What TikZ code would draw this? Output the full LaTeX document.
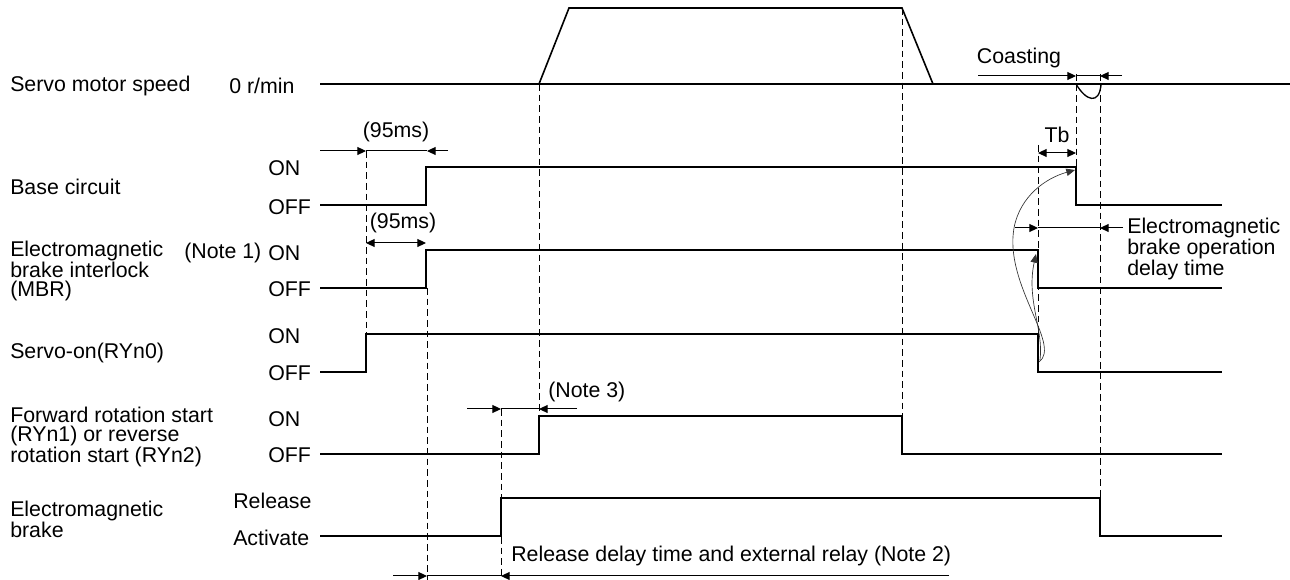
\documentclass[tikz,border=0pt]{standalone}
\usepackage{fontspec}
\setmainfont{Liberation Sans}
\usetikzlibrary{arrows.meta}
\begin{document}
\begin{tikzpicture}[x=0.75pt,y=-0.75pt,
  sig/.style={line width=1.5pt, line join=miter},
  dsh/.style={line width=0.75pt, dash pattern=on 5pt off 3pt},
  dim/.style={line width=0.75pt},
  tip/.style={-{Triangle[length=6.5pt,width=6pt]}},
  dbl/.style={{Triangle[length=6.5pt,width=6pt]}-{Triangle[length=6.5pt,width=6pt]}},
  crv/.style={line width=0.5pt, black!80, -{Triangle[length=6.5pt,width=5.5pt]}},
  lbl/.style={font=\fontsize{16}{14.8}\selectfont, inner sep=0pt, align=left, anchor=west},
  ctr/.style={font=\fontsize{16}{14.8}\selectfont, inner sep=0pt, anchor=center},
]
\useasboundingbox (0,0) rectangle (1290,580);

% ---- labels, left column
\node[lbl] (sms) at (10,86) {Servo motor speed};
\node[lbl] (rpm) at (229,86) {0 r/min};
\node[lbl] (bc) at (10,187) {Base circuit};
\node[lbl] (bcon) at (268,168) {ON};
\node[lbl] (bcoff) at (268,207) {OFF};
\node[lbl] (mbr) at (10,271) {Electromagnetic\\brake interlock\\(MBR)};
\node[lbl] (nt1) at (184,253) {(Note 1)};
\node[lbl] (mbron) at (268,253) {ON};
\node[lbl] (mbroff) at (268,289) {OFF};
\node[lbl] (son) at (10,353) {Servo-on(RYn0)};
\node[lbl] (sonon) at (268,336) {ON};
\node[lbl] (sonoff) at (268,373) {OFF};
\node[lbl] (fwd) at (10,437) {Forward rotation start\\(RYn1) or reverse\\rotation start (RYn2)};
\node[lbl] (fwdon) at (268,419) {ON};
\node[lbl] (fwdoff) at (268,455) {OFF};
\node[lbl] (emb) at (10,519) {Electromagnetic\\brake};
\node[lbl] (rel) at (233,501) {Release};
\node[lbl] (act) at (233,538) {Activate};

% ---- other texts
\node[ctr] (t95a) at (396,132) {(95ms)};
\node[ctr] (t95b) at (403,223) {(95ms)};
\node[ctr] (tb) at (1057,135) {Tb};
\node[ctr] (coast) at (1019,58) {Coasting};
\node[lbl] (nt3) at (548,392) {(Note 3)};
\node[lbl] (nt2) at (511,556) {Release delay time and external relay (Note 2)};
\node[lbl] (ebod) at (1127,249) {Electromagnetic\\brake operation\\delay time};

% ---- dashed time markers
\draw[dsh] (366,151) -- (366,334);
\draw[dsh] (427,288) -- (427,580);
\draw[dsh] (501,409) -- (501,580);
\draw[dsh] (539,84) -- (539,416);
\draw[dsh] (902,8) -- (902,416);
\draw[dsh] (1038,145) -- (1038,334);
\draw[dsh] (1076,74) -- (1076,167);
\draw[dsh] (1100,74) -- (1100,498);

% ---- servo motor speed
\draw[sig] (320,84) -- (1290,84);
\draw[line width=1.2pt, line join=miter] (539,84) -- (569,8) -- (902,8) -- (933,84);
\draw[line width=1pt] (1076,84) .. controls (1086,101) and (1099,105) .. (1101,85);

% ---- signals
\draw[sig] (320,205) -- (426,205) -- (426,167) -- (1076,167) -- (1076,205) -- (1222,205);
\draw[sig] (320,288) -- (426,288) -- (426,250) -- (1038,250) -- (1038,288) -- (1222,288);
\draw[sig] (320,372) -- (366,372) -- (366,334) -- (1038,334) -- (1038,372) -- (1222,372);
\draw[sig] (320,454) -- (539,454) -- (539,416) -- (902,416) -- (902,454) -- (1222,454);
\draw[sig] (320,536) -- (501,536) -- (501,498) -- (1100,498) -- (1100,536) -- (1222,536);

% ---- dimension arrows
\draw[dim,tip] (320,151) -- (366,151);
\draw[dim] (366,151) -- (427,151);
\draw[dim,tip] (448,151) -- (427,151);

\draw[dim,dbl] (366,243) -- (426,243);

\draw[dim,dbl] (1038,153) -- (1076,153);

\draw[dim,tip] (978,76) -- (1076,76);
\draw[dim] (1076,76) -- (1100,76);
\draw[dim,tip] (1122,76) -- (1100,76);

\draw[dim,tip] (1015,228) -- (1038,228);
\draw[dim] (1038,228) -- (1100,228);
\draw[dim,tip] (1123,228) -- (1100,228);

\draw[dim,tip] (467,409) -- (501,409);
\draw[dim] (501,409) -- (539,409);
\draw[dim,tip] (577,409) -- (539,409);

\draw[dim,tip] (393,576) -- (427,576);
\draw[dim] (427,576) -- (501,576);
\draw[dim,tip] (949,576) -- (501,576);

% ---- curved cause arrows
\draw[crv] (1039,362) .. controls (1062,345) and (1004,285) .. (1014,228)
  .. controls (1020,196) and (1046,178) .. (1075,170);
\draw[crv] (1040,360) .. controls (1044,330) and (1026,300) .. (1036,254);
\end{tikzpicture}
\end{document}
